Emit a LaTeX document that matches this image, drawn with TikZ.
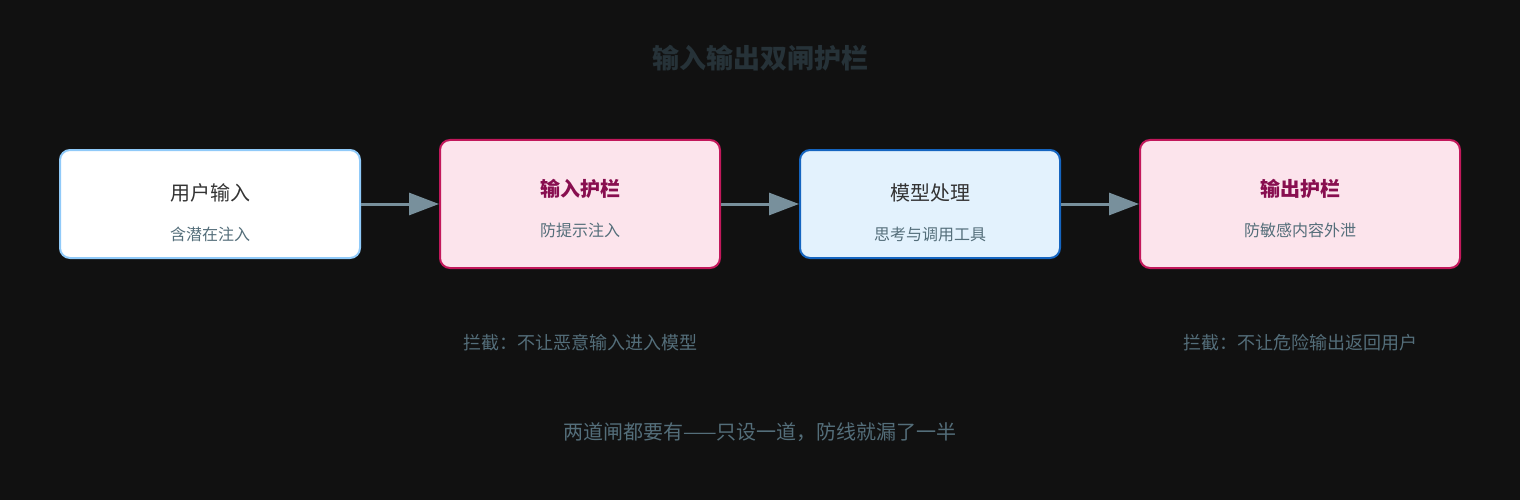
\documentclass[tikz,border=0pt]{standalone}
\usepackage{fontspec}
\setmainfont{Noto Sans CJK SC}
\usetikzlibrary{arrows.meta}
\definecolor{bg}{HTML}{111111}
\definecolor{ttl}{HTML}{263238}
\definecolor{arr}{HTML}{78909C}
\definecolor{sub}{HTML}{546E7A}
\definecolor{pinkf}{HTML}{FCE4EC}
\definecolor{pinkd}{HTML}{C2185B}
\definecolor{pinkt}{HTML}{880E4F}
\definecolor{bluef}{HTML}{E3F2FD}
\definecolor{blued}{HTML}{1565C0}
\definecolor{lblue}{HTML}{90CAF9}
\begin{document}
\begin{tikzpicture}[x=1pt,y=-1pt,
  box/.style={draw,line width=2pt,rounded corners=10pt,inner sep=0pt},
  con/.style={draw=arr,line width=3pt,-{Triangle[length=30pt,width=22pt]}},
  main/.style={font=\fontsize{20}{24}\selectfont,text=black!80},
  gmain/.style={font=\fontsize{20}{24}\selectfont\bfseries,text=pinkt},
  subt/.style={font=\fontsize{16}{20}\selectfont,text=sub},
  note/.style={font=\fontsize{18}{22}\selectfont,text=sub}]
\fill[bg] (0,0) rectangle (1520,500);
\node[font=\fontsize{27}{32}\selectfont\bfseries,text=ttl] (title) at (760,58) {输入输出双闸护栏};
\node[box,draw=lblue,fill=white,minimum width=300pt,minimum height=108pt] (u) at (210,204) {};
\node[box,draw=pinkd,fill=pinkf,minimum width=280pt,minimum height=128pt] (g1) at (580,204) {};
\node[box,draw=blued,fill=bluef,minimum width=260pt,minimum height=108pt] (m) at (930,204) {};
\node[box,draw=pinkd,fill=pinkf,minimum width=320pt,minimum height=128pt] (g2) at (1300,204) {};
\node[main] (ut) at (210,193) {用户输入};
\node[subt] (us) at (210,234) {含潜在注入};
\node[gmain] (g1t) at (580,189) {输入护栏};
\node[subt] (g1s) at (580,230) {防提示注入};
\node[main] (mt) at (930,193) {模型处理};
\node[subt] (ms) at (930,234) {思考与调用工具};
\node[gmain] (g2t) at (1300,189) {输出护栏};
\node[subt] (g2s) at (1300,230) {防敏感内容外泄};
\draw[con] (u.east) -- (g1.west);
\draw[con] (g1.east) -- (m.west);
\draw[con] (m.east) -- (g2.west);
\node[note] (n1) at (580,343) {拦截：不让恶意输入进入模型};
\node[note] (n2) at (1300,343) {拦截：不让危险输出返回用户};
\node[font=\fontsize{20}{24}\selectfont,text=sub] (b) at (760,432) {两道闸都要有——只设一道，防线就漏了一半};
\end{tikzpicture}
\end{document}
